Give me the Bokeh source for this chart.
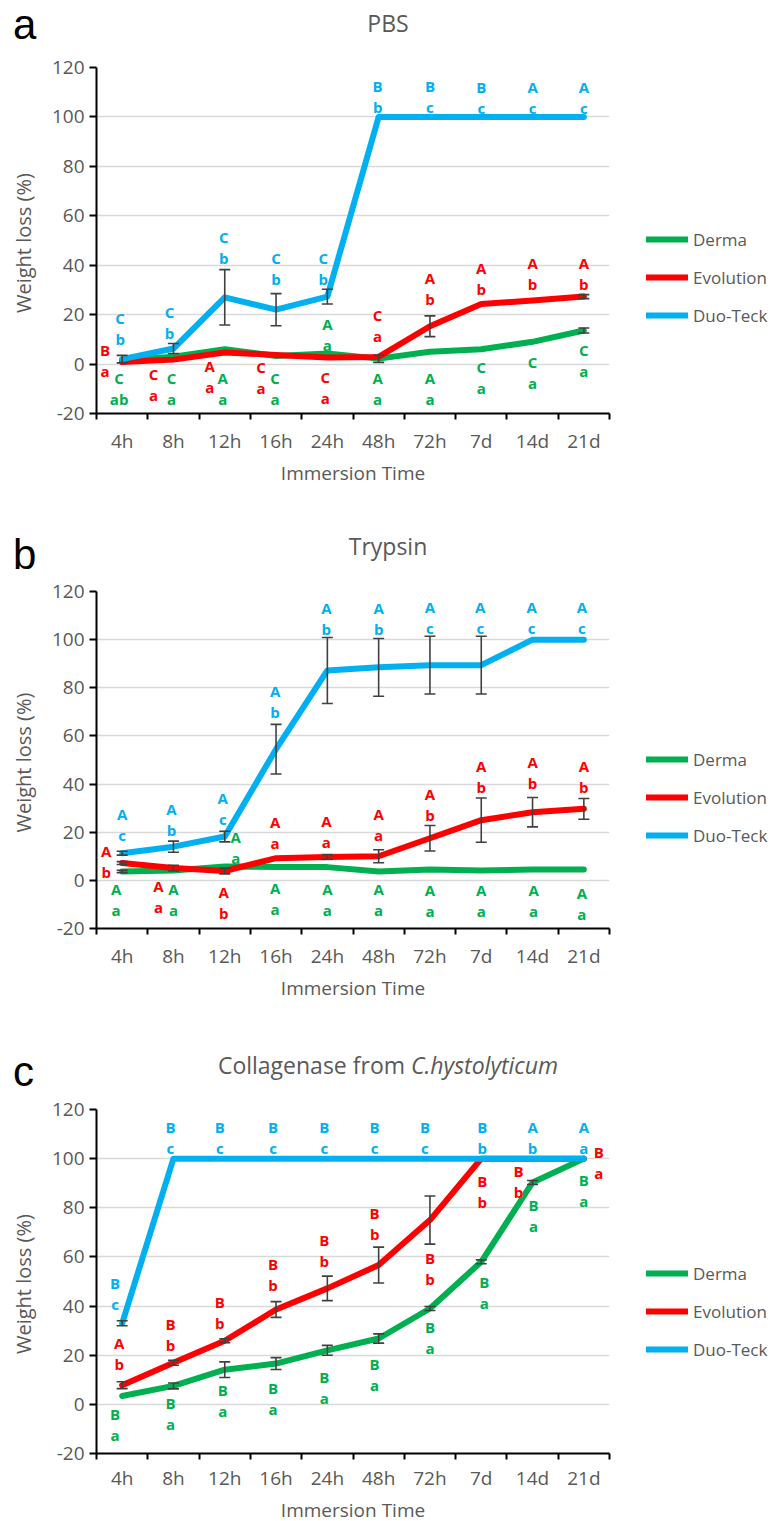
from bokeh.plotting import figure
from bokeh.models import (ColumnDataSource, FixedTicker, Range1d, Whisker, TeeHead,
                          Legend, LegendItem, Div)
from bokeh.layouts import column, row
from bokeh.embed import file_html
from bokeh.resources import INLINE
from bokeh.core.properties import value

# ---------------- data ----------------
categories = ["4h", "8h", "12h", "16h", "24h", "48h", "72h", "7d", "14d", "21d"]
series_names = ["Derma", "Evolution", "Duo-Teck"]
y_ticks = [-20, 0, 20, 40, 60, 80, 100, 120]

# Panel a : PBS
pbs_derma = [1.5, 3.0, 6.0, 3.3, 4.3, 2.2, 5.0, 6.0, 9.0, 13.6]
pbs_evol = [0.8, 1.8, 4.7, 3.7, 2.7, 2.9, 15.3, 24.3, 25.7, 27.3]
pbs_duo = [2.0, 6.3, 27.0, 22.0, 27.3, 100, 100, 100, 100, 100]
pbs_derma_err = [0, 0, 0, 0, 0, 1.5, 0, 0, 0, 1.0]
pbs_evol_err = [0, 0, 0, 0, 0, 0, 4.2, 0, 0, 0.8]
pbs_duo_err = [1.5, 2.0, 11.2, 6.5, 3.0, 0, 0, 0, 0, 0]

pbs_derma_up = ["C", "C", "A", "C", "A", "A", "A", "C", "C", "C"]
pbs_derma_low = ["ab", "a", "a", "a", "a", "a", "a", "a", "a", "a"]
pbs_evol_up = ["B", "C", "A", "C", "C", "C", "A", "A", "A", "A"]
pbs_evol_low = ["a", "a", "a", "a", "a", "a", "b", "b", "b", "b"]
pbs_duo_up = ["C", "C", "C", "C", "C", "B", "B", "B", "A", "A"]
pbs_duo_low = ["b", "b", "b", "b", "b", "b", "c", "c", "c", "c"]

# Panel b : Trypsin
tryp_derma = [3.7, 4.1, 5.8, 5.5, 5.5, 3.7, 4.5, 4.1, 4.5, 4.5]
tryp_evol = [7.2, 5.1, 3.9, 9.2, 9.7, 10.0, 17.5, 25.0, 28.3, 29.7]
tryp_duo = [11.3, 14.0, 18.2, 54.5, 87.2, 88.5, 89.4, 89.4, 100, 100]
tryp_derma_err = [0.5, 0, 0, 0, 0, 0, 0, 0, 0, 0]
tryp_evol_err = [0.6, 1.2, 1.2, 0, 1.0, 2.7, 5.3, 9.2, 6.1, 4.3]
tryp_duo_err = [0.8, 2.3, 2.2, 10.3, 13.7, 12.0, 12.0, 12.0, 0, 0]

tryp_derma_up = ["A"] * 10
tryp_derma_low = ["a"] * 10
tryp_evol_up = ["A"] * 10
tryp_evol_low = ["b", "a", "b", "a", "a", "a", "b", "b", "b", "b"]
tryp_duo_up = ["A"] * 10
tryp_duo_low = ["c", "b", "c", "b", "b", "b", "c", "c", "c", "c"]

# Panel c : Collagenase
coll_derma = [3.4, 7.5, 14.1, 16.6, 22.0, 26.8, 39.0, 58.0, 90.3, 100]
coll_evol = [7.8, 16.9, 25.9, 38.6, 47.2, 56.7, 75.0, 100, 100, 100]
coll_duo = [33.0, 100, 100, 100, 100, 100, 100, 100, 100, 100]
coll_derma_err = [0, 1.2, 3.2, 2.4, 2.0, 1.9, 0.8, 0.8, 0.8, 0]
coll_evol_err = [1.4, 1.0, 0.8, 3.2, 5.0, 7.3, 9.8, 0, 0, 0]
coll_duo_err = [1.0, 0, 0, 0, 0, 0, 0, 0, 0, 0]

coll_derma_up = ["B"] * 10
coll_derma_low = ["a"] * 10
coll_evol_up = ["A", "B", "B", "B", "B", "B", "B", "B", "B", "B"]
coll_evol_low = ["b", "b", "b", "b", "b", "b", "b", "b", "b", "a"]
coll_duo_up = ["B", "B", "B", "B", "B", "B", "B", "B", "A", "A"]
coll_duo_low = ["c", "c", "c", "c", "c", "c", "c", "b", "b", "a"]

# ---------------- annotation layout (letter anchor heights, px shifts) ----------------
pbs_derma_lab_y = [-5.6, -5.6, -5.6, -5.6, 16.3, -5.6, -5.6, -1.3, 0.9, 5.6]
pbs_evol_lab_y = [5.6, -4.0, -0.7, -1.3, -5.3, 19.7, 34.7, 39.0, 41.0, 41.0]
pbs_duo_lab_y = [18.7, 21.0, 51.3, 43.0, 43.0, 112.7, 112.7, 112.3, 112.0, 112.0]
pbs_derma_dx = [-3, -2, -2, -1, 0, -1, 0, 0, 0, 0]
pbs_evol_dx = [-17, -20, -15, -15, -2, -1, 0, 0, 0, 0]
pbs_duo_dx = [-2, -4, -1, 0, -4, -1, 0, 0, 0, 0]

tryp_derma_lab_y = [-3.7, -3.7, 17.9, -3.0, -3.4, -3.7, -3.9, -4.1, -4.1, -5.1]
tryp_evol_lab_y = [12.4, -2.3, -4.8, 24.1, 24.6, 27.6, 35.9, 47.6, 49.0, 47.6]
tryp_duo_lab_y = [27.6, 29.7, 34.2, 78.6, 113.0, 113.3, 113.5, 113.5, 113.5, 113.5]
tryp_derma_dx = [-6, 0, 11, -1, 0, 0, 0, 0, 1, -2]
tryp_evol_dx = [-16, -15, -1, -1, -1, 0, 0, 0, 0, 0]
tryp_duo_dx = [0, -2, -2, -1, -1, 0, 0, -1, -1, -2]

coll_derma_lab_y = [-4.1, 0.5, 5.7, 6.7, 11.2, 16.6, 31.6, 49.9, 81.2, 91.4]
coll_evol_lab_y = [24.8, 32.9, 41.8, 57.0, 66.9, 77.8, 59.5, 90.7, 95.1, 102.6]
coll_duo_lab_y = [49.3, 112.9, 112.9, 112.9, 112.9, 112.9, 112.9, 112.9, 112.9, 112.9]
coll_derma_dx = [-7, -3, -2, -3, -3, -4, 0, 3, 1, 0]
coll_evol_dx = [-3, -3, -5, -3, -3, -4, 0, 1, -14, 15]
coll_duo_dx = [-7, -3, -5, -3, -3, -4, -5, 1, 0, 0]

# ---------------- styles ----------------
C_DERMA, C_EVOL, C_DUO = "#00b050", "#ff0000", "#00b0f0"
COLORS = [C_DERMA, C_EVOL, C_DUO]
GREY = "#595959"
FONT = "Open Sans"
FRAME_W = 513
LEG_W = 141


def header(height, letter, letter_y, title_svg):
    html = (f'<svg xmlns="http://www.w3.org/2000/svg" width="770" height="{height}" '
            f'style="display:block">'
            f'<text x="13" y="{letter_y}" style="font-family:\'Liberation Sans\';font-size:42px;'
            f'fill:#000000">{letter}</text>{title_svg}</svg>')
    return Div(text=html, width=770, height=height, margin=0)


def title_text(x, y, inner):
    return (f'<text x="{x}" y="{y}" text-anchor="middle" style="font-family:\'Open Sans\';'
            f'font-size:23px;fill:{GREY}">{inner}</text>')


def make_panel(frame_h, bottom, lab_standoff, title_standoff, legend_y,
               series, errs, ups, lows, lab_ys, dxs):
    p = figure(frame_width=FRAME_W, frame_height=frame_h,
               x_range=Range1d(0, 10), y_range=Range1d(-20, 120),
               output_backend="svg", toolbar_location=None,
               min_border_left=96, min_border_right=20,
               min_border_top=13, min_border_bottom=bottom)
    p.outline_line_color = None
    p.xgrid.visible = False
    p.ygrid.ticker = FixedTicker(ticks=[t for t in y_ticks if t > -20])
    p.ygrid.grid_line_color = "#d9d9d9"
    p.ygrid.grid_line_width = 1.5

    centers = [i + 0.5 for i in range(len(categories))]
    xa = p.xaxis[0]
    xa.ticker = FixedTicker(ticks=centers, minor_ticks=list(range(len(categories) + 1)))
    xa.major_label_overrides = {c: lab for c, lab in zip(centers, categories)}
    xa.major_tick_line_color = None
    xa.major_tick_out = 6
    xa.major_tick_in = 0
    xa.minor_tick_line_color = "black"
    xa.minor_tick_line_width = 2
    xa.minor_tick_out = 6
    xa.minor_tick_in = 0
    xa.axis_line_color = "black"
    xa.axis_line_width = 2
    xa.major_label_standoff = lab_standoff
    xa.major_label_text_font = FONT
    xa.major_label_text_font_size = "19px"
    xa.major_label_text_color = GREY
    xa.axis_label = "Immersion Time"
    xa.axis_label_text_font = FONT
    xa.axis_label_text_font_size = "19px"
    xa.axis_label_text_font_style = "normal"
    xa.axis_label_text_color = GREY
    xa.axis_label_standoff = title_standoff

    ya = p.yaxis[0]
    ya.ticker = FixedTicker(ticks=y_ticks)
    ya.major_label_overrides = {t: str(t) for t in y_ticks}
    ya.minor_tick_line_color = None
    ya.major_tick_line_color = "black"
    ya.major_tick_line_width = 2
    ya.major_tick_out = 7
    ya.major_tick_in = 0
    ya.axis_line_color = "black"
    ya.axis_line_width = 2
    ya.major_label_standoff = 5
    ya.major_label_text_font = FONT
    ya.major_label_text_font_size = "19px"
    ya.major_label_text_color = GREY
    ya.axis_label = "Weight  loss (%)"
    ya.axis_label_text_font = FONT
    ya.axis_label_text_font_size = "20px"
    ya.axis_label_text_font_style = "normal"
    ya.axis_label_text_color = GREY
    ya.axis_label_standoff = 12

    for vals, col in zip(series, COLORS):
        p.line(centers, vals, line_color=col, line_width=6, line_join="round", line_cap="round")

    for vals, err in zip(series, errs):
        idx = [i for i, e in enumerate(err) if e > 0]
        src = ColumnDataSource(dict(x=[centers[i] for i in idx],
                                    up=[vals[i] + err[i] for i in idx],
                                    lo=[vals[i] - err[i] for i in idx]))
        w = Whisker(base="x", upper="up", lower="lo", source=src, dimension="height",
                    line_color="#404040", line_width=1.6, level="overlay",
                    upper_head=TeeHead(size=11, line_color="#404040", line_width=1.6),
                    lower_head=TeeHead(size=11, line_color="#404040", line_width=1.6))
        p.add_layout(w)

    gap = 21 * 140 / frame_h
    for up, low, ys, dx, col in zip(ups, lows, lab_ys, dxs, COLORS):
        xs = [c + d * 10 / FRAME_W for c, d in zip(centers, dx)]
        src = ColumnDataSource(dict(x=xs + xs, y=list(ys) + [v - gap for v in ys],
                                    t=list(up) + list(low)))
        p.text(x="x", y="y", text="t", source=src, text_color=col,
               text_font=value(FONT), text_font_size="15px", text_font_style="bold",
               text_align="center", text_baseline="middle")

    # legend panel to the right of the plot (its frame aligns with the plot frame)
    total_h = 13 + frame_h + bottom
    lg = figure(width=LEG_W, height=total_h, x_range=Range1d(0, 1), y_range=Range1d(0, 1),
                x_axis_location=None, y_axis_location=None, min_border=0,
                output_backend="svg", toolbar_location=None)
    lg.outline_line_color = None
    lg.grid.visible = False
    nan = float("nan")
    rends = [lg.line(x=[nan], y=[nan], line_color=col, line_width=6, line_cap="round")
             for col in COLORS]
    legend = Legend(items=[LegendItem(label=n, renderers=[r]) for n, r in zip(series_names, rends)],
                    location=(17, legend_y), glyph_width=42, glyph_height=24, label_height=24,
                    label_standoff=5, spacing=14, padding=0, margin=0, border_line_color=None,
                    background_fill_alpha=0, label_text_font=FONT,
                    label_text_font_size="17px", label_text_color=GREY)
    lg.add_layout(legend)
    return row(p, lg, spacing=0)


ha = header(54, "a", 39, title_text(388, 32, "PBS"))
pa = make_panel(346, 87, 8, 3, 86,
                [pbs_derma, pbs_evol, pbs_duo], [pbs_derma_err, pbs_evol_err, pbs_duo_err],
                [pbs_derma_up, pbs_evol_up, pbs_duo_up], [pbs_derma_low, pbs_evol_low, pbs_duo_low],
                [pbs_derma_lab_y, pbs_evol_lab_y, pbs_duo_lab_y], [pbs_derma_dx, pbs_evol_dx, pbs_duo_dx])

hb = header(78, "b", 69, title_text(388, 55, "Trypsin"))
pb = make_panel(337, 89, 8, 3, 81,
                [tryp_derma, tryp_evol, tryp_duo], [tryp_derma_err, tryp_evol_err, tryp_duo_err],
                [tryp_derma_up, tryp_evol_up, tryp_duo_up], [tryp_derma_low, tryp_evol_low, tryp_duo_low],
                [tryp_derma_lab_y, tryp_evol_lab_y, tryp_duo_lab_y], [tryp_derma_dx, tryp_evol_dx, tryp_duo_dx])

hc = header(79, "c", 69, title_text(388, 57, 'Collagenase from <tspan style="font-style:italic">C.hystolyticum</tspan>'))
pc = make_panel(344, 64, 5, 3, 84,
                [coll_derma, coll_evol, coll_duo], [coll_derma_err, coll_evol_err, coll_duo_err],
                [coll_derma_up, coll_evol_up, coll_duo_up], [coll_derma_low, coll_evol_low, coll_duo_low],
                [coll_derma_lab_y, coll_evol_lab_y, coll_duo_lab_y], [coll_derma_dx, coll_evol_dx, coll_duo_dx])

layout = column(ha, pa, hb, pb, hc, pc, spacing=0)
open("out.html", "w").write(file_html(layout, INLINE))
